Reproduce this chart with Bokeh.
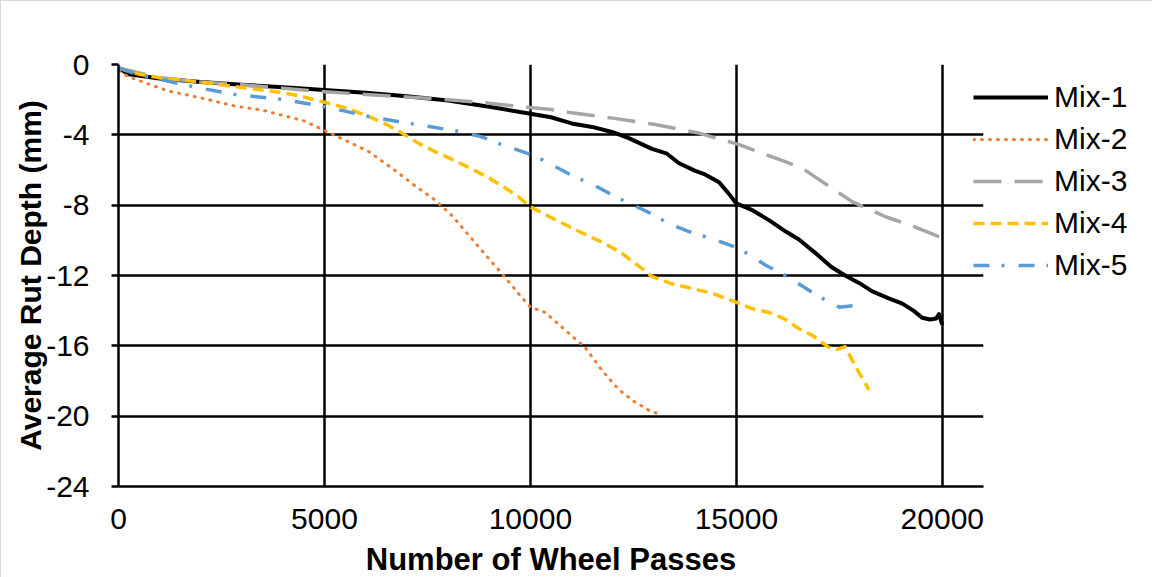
from bokeh.plotting import figure
from bokeh.models import Range1d, FixedTicker, Legend, LegendItem, PrintfTickFormatter
from bokeh.embed import file_html
from bokeh.resources import INLINE

# ---------------- data ----------------
series_names = ["Mix-1", "Mix-2", "Mix-3", "Mix-4", "Mix-5"]

mix1_x = [0, 250, 1000, 2000, 3000, 4000, 5000, 6000, 7000, 8000, 9000, 10000,
          10500, 11000, 11500, 12000, 12400, 12950, 13300, 13600, 14000, 14240,
          14580, 14800, 15000, 15400, 15790, 16200, 16520, 17010, 17300, 17640,
          18000, 18300, 18700, 19030, 19300, 19510, 19700, 19850, 19920, 20000]
mix1_y = [-0.2, -0.55, -0.8, -1.0, -1.15, -1.3, -1.45, -1.6, -1.8, -2.05, -2.4, -2.8,
          -3.0, -3.35, -3.55, -3.85, -4.2, -4.8, -5.05, -5.6, -6.05, -6.25,
          -6.7, -7.3, -7.9, -8.3, -8.85, -9.5, -9.95, -10.9, -11.5, -12.0,
          -12.45, -12.9, -13.3, -13.6, -14.0, -14.4, -14.5, -14.45, -14.2, -14.8]

mix2_x = [0, 300, 1200, 2000, 2800, 3500, 4000, 4500, 5000, 5500, 6070, 6700,
          7200, 7680, 8100, 8500, 8900, 9310, 9700, 10000, 10360, 10700, 10940,
          11330, 11740, 12150, 12540, 12900, 13150]
mix2_y = [-0.4, -0.75, -1.5, -1.9, -2.35, -2.6, -2.9, -3.2, -3.75, -4.3, -4.95, -6.0,
          -6.9, -7.7, -8.6, -9.7, -10.8, -11.9, -13.0, -13.8, -14.1, -14.8, -15.3,
          -16.1, -17.4, -18.5, -19.2, -19.7, -19.9]

mix3_x = [0, 1000, 2000, 3000, 4000, 5000, 6000, 7000, 8000, 9000, 10000, 10500,
          11000, 12000, 13000, 14090, 15070, 16040, 16600, 17010, 17810, 18620,
          19300, 19830, 20000]
mix3_y = [-0.2, -0.75, -1.0, -1.15, -1.35, -1.55, -1.7, -1.85, -2.0, -2.2, -2.45, -2.56,
          -2.75, -3.05, -3.4, -3.9, -4.56, -5.4, -5.9, -6.55, -7.8, -8.66,
          -9.2, -9.7, -9.9]

mix4_x = [0, 500, 1000, 2000, 2800, 3500, 4000, 4500, 5000, 5500, 6070, 6500,
          6880, 7300, 7680, 8100, 8500, 9000, 9310, 9700, 10000, 10500, 10930,
          11400, 11740, 12200, 12540, 12950, 13400, 13850, 14400, 14970, 15400,
          15790, 16000, 16190, 16500, 16840, 17250, 17450, 17640, 17900, 18220]
mix4_y = [-0.2, -0.55, -0.75, -1.0, -1.25, -1.45, -1.6, -1.85, -2.15, -2.45, -2.95, -3.4,
          -3.9, -4.5, -4.95, -5.4, -5.85, -6.45, -6.9, -7.5, -8.1, -8.7, -9.2,
          -9.75, -10.1, -10.7, -11.3, -12.05, -12.45, -12.7, -13.0, -13.5, -13.9,
          -14.1, -14.3, -14.5, -15.0, -15.4, -16.1, -16.2, -16.05, -17.2, -18.5]

mix5_x = [0, 500, 1000, 2000, 2820, 4030, 5000, 5500, 6070, 7190, 8260, 8800,
          9310, 10110, 10600, 11080, 11500, 12050, 12500, 12950, 13400, 13850,
          14400, 15000, 15300, 15700, 16190, 16600, 17010, 17500, 17890]
mix5_y = [-0.2, -0.6, -0.85, -1.35, -1.7, -2.0, -2.4, -2.65, -2.96, -3.4, -3.8, -4.1,
          -4.56, -5.2, -5.8, -6.4, -6.8, -7.5, -8.0, -8.5, -9.1, -9.5,
          -9.9, -10.4, -10.8, -11.4, -12.0, -12.6, -13.2, -13.8, -13.7]

x_ticks = [0, 5000, 10000, 15000, 20000]
y_ticks = [0, -4, -8, -12, -16, -20, -24]

# ---------------- figure ----------------
FONT = "Liberation Sans"

p = figure(output_backend="svg", toolbar_location=None,
           frame_width=865, frame_height=422,
           min_border_left=117, min_border_right=160,
           min_border_top=63, min_border_bottom=80,
           x_range=Range1d(0, 21000), y_range=Range1d(-24, 0))
p.styles = {"border-left": "1px solid #D9D9D9", "border-top": "1px solid #D9D9D9",
            "border-right": "1px solid #D9D9D9"}
p.outline_line_color = None
p.background_fill_color = "white"
p.border_fill_color = "white"

# grids
p.xgrid.ticker = FixedTicker(ticks=x_ticks)
p.ygrid.ticker = FixedTicker(ticks=y_ticks)
for g in (p.xgrid, p.ygrid):
    g.grid_line_color = "black"
    g.grid_line_width = 2.5
    g.grid_line_alpha = 1

# axes
p.xaxis.ticker = FixedTicker(ticks=x_ticks)
p.yaxis.ticker = FixedTicker(ticks=y_ticks)
for ax in (p.xaxis, p.yaxis):
    ax.formatter = PrintfTickFormatter(format="%d")
    ax.axis_line_color = "black"
    ax.axis_line_width = 2.5
    ax.major_label_text_font = FONT
    ax.major_label_text_font_size = "30px"
    ax.major_label_text_color = "black"
    ax.axis_label_text_font = FONT
    ax.axis_label_text_font_style = "bold"
    ax.axis_label_text_color = "black"
    ax.minor_tick_line_color = None

p.xaxis.major_tick_out = 0
p.xaxis.major_tick_in = 0
p.xaxis.major_label_standoff = 22
p.xaxis.axis_label = "Number of Wheel Passes"
p.xaxis.axis_label_text_font_size = "31px"
p.xaxis.axis_label_standoff = 10

p.yaxis.major_tick_out = 7
p.yaxis.major_tick_in = 0
p.yaxis.major_tick_line_color = "black"
p.yaxis.major_tick_line_width = 2.5
p.yaxis.major_label_standoff = 22
p.yaxis.axis_label = "Average Rut Depth (mm)"
p.yaxis.axis_label_text_font_size = "30px"
p.yaxis.axis_label_standoff = -4

# series
r1 = p.line(mix1_x, mix1_y, line_color="black", line_width=4, line_join="round")
r2 = p.line(mix2_x, mix2_y, line_color="#ED7D31", line_width=3,
            line_dash="1 7", line_cap="round", line_join="round")
r3 = p.line(mix3_x, mix3_y, line_color="#A5A5A5", line_width=3.5,
            line_dash="28 13", line_join="round")
r4 = p.line(mix4_x, mix4_y, line_color="#FFC000", line_width=3.5,
            line_dash="11 6", line_join="round")
r5 = p.line(mix5_x, mix5_y, line_color="#5B9BD5", line_width=3.5,
            line_dash="16 12 3 14", line_join="round")

legend = Legend(items=[LegendItem(label=n, renderers=[r])
                       for n, r in zip(series_names, [r1, r2, r3, r4, r5])],
                location=(-10, 204))
legend.label_text_font = FONT
legend.label_text_font_size = "30px"
legend.label_text_color = "black"
legend.glyph_width = 75
legend.glyph_height = 32
legend.label_height = 32
legend.label_standoff = 6
legend.spacing = 8
legend.padding = 0
legend.margin = 0
legend.border_line_color = None
legend.background_fill_alpha = 0
p.add_layout(legend, "right")

open("out.html", "w").write(file_html(p, INLINE))
